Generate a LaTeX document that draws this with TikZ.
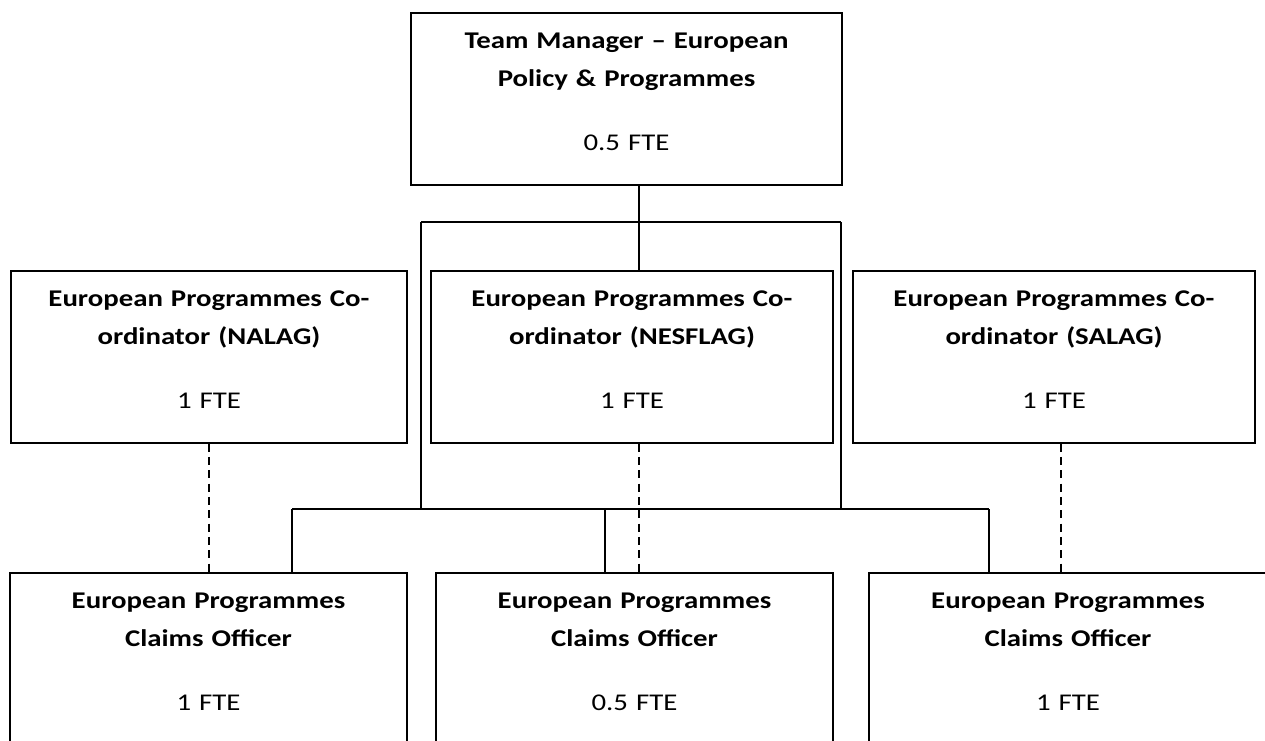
\documentclass[tikz,border=0pt]{standalone}
\usepackage{fontspec}
\setmainfont{Carlito}[FakeStretch=1.2]
\usetikzlibrary{positioning, calc}

\begin{document}
\begin{tikzpicture}[
  x=0.75pt, y=-0.75pt,
  font=\fontsize{18pt}{28.5pt}\selectfont,
  post/.style={rectangle, draw, line width=1.2pt, inner sep=0pt, align=center,
    text height=27pt, text depth=102pt, anchor=north},
  link/.style={draw, line width=1.2pt},
  dotlink/.style={draw, line width=1.2pt, dash pattern=on 6pt off 4pt}
]
  \clip (0,0) rectangle (1265,740);
  \useasboundingbox (0,0) rectangle (1265,740);

  % manager
  \node [post, text width=323.25pt] (mgr) at (626.5,12)
    {\textbf{Team Manager -- European}\\\textbf{Policy \& Programmes}\\[19pt]0.5 FTE};

  % co-ordinators
  \node [post, text width=297pt] (nalag) at (209,270)
    {\textbf{European Programmes Co-}\\\textbf{ordinator (NALAG)}\\[19pt]1 FTE};
  \node [post, text width=301.5pt] (nesflag) at (632,270)
    {\textbf{European Programmes Co-}\\\textbf{ordinator (NESFLAG)}\\[19pt]1 FTE};
  \node [post, text width=301.5pt] (salag) at (1054,270)
    {\textbf{European Programmes Co-}\\\textbf{ordinator (SALAG)}\\[19pt]1 FTE};

  % claims officers
  \node [post, text width=297.75pt] (claimsA) at (208.5,572)
    {\textbf{European Programmes}\\\textbf{Claims Officer}\\[19pt]1 FTE};
  \node [post, text width=297.75pt] (claimsB) at (634.5,572)
    {\textbf{European Programmes}\\\textbf{Claims Officer}\\[19pt]0.5 FTE};
  \node [post, text width=298.5pt] (claimsC) at (1068,572)
    {\textbf{European Programmes}\\\textbf{Claims Officer}\\[19pt]1 FTE};

  \coordinate (hub) at (639,222);
  \coordinate (busA) at (421,222);
  \coordinate (busB) at (841,222);
  \coordinate (busC) at (292,509);
  \coordinate (busD) at (989,509);
  \coordinate (dropB) at (605,509);
  \coordinate (dashC) at (1061,509);

  \draw [link] (mgr.south -| hub) -- (nesflag.north -| hub);
  \draw [link] (busA) -- (busB);
  \draw [link] (busA) -- (busA |- busC);
  \draw [link] (busB) -- (busB |- busC);
  \draw [link] (busC) -- (busD);
  \draw [link] (busC) -- (busC |- claimsA.north);
  \draw [link] (dropB) -- (dropB |- claimsB.north);
  \draw [link] (busD) -- (busD |- claimsC.north);

  \draw [dotlink] (nalag.south) -- (nalag.south |- claimsA.north);
  \draw [dotlink] (nesflag.south -| hub) -- (claimsB.north -| hub);
  \draw [dotlink] (salag.south -| dashC) -- (claimsC.north -| dashC);
\end{tikzpicture}
\end{document}
